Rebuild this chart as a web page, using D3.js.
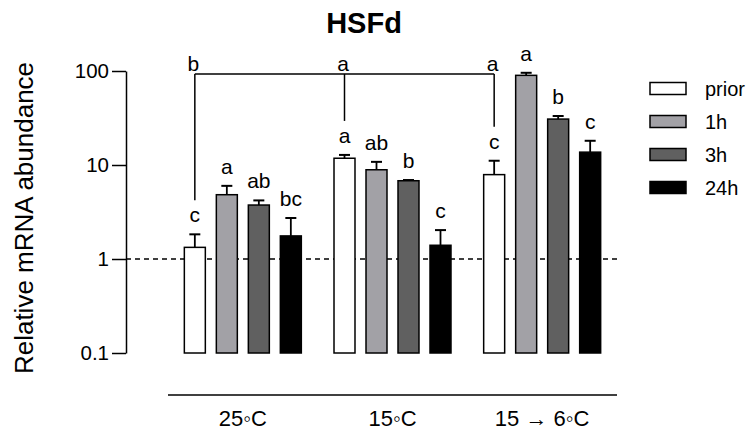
<!DOCTYPE html>
<html>
<head>
<meta charset="utf-8">
<script src="https://cdn.jsdelivr.net/npm/d3@7"></script>
<style>
  body { margin: 0; background: #fff; }
  svg { font-family: Arial, "Liberation Sans", sans-serif; }
</style>
</head>
<body>
<svg width="756" height="434"></svg>
<script>
// categories and series
const groups = ['25\u25E6C', '15\u25E6C', '15 \u2192 6\u25E6C'];
const series = ['prior', '1h', '3h', '24h'];
const colors = ['#ffffff', '#a2a1a6', '#606060', '#000000'];

// means per series (one value per group)
const prior = [1.33, 11.8, 7.9];
const h1 = [4.83, 8.9, 89.9];
const h3 = [3.75, 6.8, 30.8];
const h24 = [1.76, 1.40, 13.7];

// upper error (SEM) per series
const priorErr = [0.50, 1.0, 3.2];
const h1Err = [1.17, 1.9, 5.8];
const h3Err = [0.45, 0.12, 2.4];
const h24Err = [0.97, 0.63, 4.4];

// significance letters
const priorLetters = ['c', 'a', 'c'];
const h1Letters = ['a', 'ab', 'a'];
const h3Letters = ['ab', 'b', 'b'];
const h24Letters = ['bc', 'c', 'c'];
const bracketLetters = ['b', 'a', 'a'];

const yTicks = [0.1, 1, 10, 100];

const means = [prior, h1, h3, h24];
const errs = [priorErr, h1Err, h3Err, h24Err];
const letters = [priorLetters, h1Letters, h3Letters, h24Letters];

const data = [];
groups.forEach((g, gi) => {
  series.forEach((s, si) => {
    data.push({ group: g, series: s, value: means[si][gi], err: errs[si][gi], letter: letters[si][gi], color: colors[si] });
  });
});

const svg = d3.select('svg');

const y = d3.scaleLog().domain([0.1, 100]).range([353, 71]);
const x0 = d3.scaleBand().domain(groups).range([168, 617]);
const x1 = d3.scaleBand().domain(series).range([-64, 64]).paddingInner(0.344).paddingOuter(0.172);
const center = g => x0(g) + x0.bandwidth() / 2;
const barX = d => center(d.group) + x1(d.series);

// title
svg.append('text')
  .attr('x', 364).attr('y', 33)
  .attr('text-anchor', 'middle')
  .attr('font-size', 29).attr('font-weight', 'bold')
  .text('HSFd');

// y axis
const yAxis = svg.append('g')
  .attr('transform', 'translate(126,0)')
  .call(d3.axisLeft(y).tickValues(yTicks).tickFormat(d3.format('')).tickSize(14).tickSizeOuter(0).tickPadding(3));
yAxis.selectAll('path, line').attr('stroke', '#000').attr('stroke-width', 1.5);
yAxis.selectAll('text').attr('font-size', 20.5).attr('font-family', 'Arial, "Liberation Sans", sans-serif').attr('fill', '#000');

svg.append('text')
  .attr('transform', 'translate(33,218) rotate(-90)')
  .attr('text-anchor', 'middle')
  .attr('font-size', 26)
  .text('Relative mRNA abundance');

// dashed reference line at 1
svg.append('line')
  .attr('x1', 126).attr('x2', 620)
  .attr('y1', y(1)).attr('y2', y(1))
  .attr('stroke', '#000').attr('stroke-width', 1.3)
  .attr('stroke-dasharray', '5,4');

// error bars
const eb = svg.append('g').selectAll('g').data(data).join('g');
eb.append('line')
  .attr('x1', d => barX(d) + x1.bandwidth() / 2).attr('x2', d => barX(d) + x1.bandwidth() / 2)
  .attr('y1', d => y(d.value)).attr('y2', d => y(d.value + d.err))
  .attr('stroke', '#000').attr('stroke-width', 1.8);
eb.append('line')
  .attr('x1', d => barX(d) + x1.bandwidth() / 2 - 5.5).attr('x2', d => barX(d) + x1.bandwidth() / 2 + 5.5)
  .attr('y1', d => y(d.value + d.err)).attr('y2', d => y(d.value + d.err))
  .attr('stroke', '#000').attr('stroke-width', 2);

// bars
svg.append('g').selectAll('rect').data(data).join('rect')
  .attr('x', d => barX(d))
  .attr('y', d => y(d.value))
  .attr('width', x1.bandwidth())
  .attr('height', d => y(0.1) - y(d.value))
  .attr('fill', d => d.color)
  .attr('stroke', '#000').attr('stroke-width', 1.5);

// letters above bars
svg.append('g').selectAll('text').data(data).join('text')
  .attr('x', d => barX(d) + x1.bandwidth() / 2)
  .attr('y', d => y(d.value + d.err) - 12)
  .attr('text-anchor', 'middle')
  .attr('font-size', 21)
  .text(d => d.letter);

// bracket linking the prior bars
const bracketY = 74;
const priorX = groups.map(g => center(g) + x1('prior') + x1.bandwidth() / 2);
const priorTop = groups.map((g, i) => y(prior[i] + priorErr[i]) - 34);
svg.append('line')
  .attr('x1', priorX[0]).attr('x2', priorX[2])
  .attr('y1', bracketY).attr('y2', bracketY)
  .attr('stroke', '#000').attr('stroke-width', 1.5);
svg.append('g').selectAll('line').data(groups).join('line')
  .attr('x1', (d, i) => priorX[i]).attr('x2', (d, i) => priorX[i])
  .attr('y1', bracketY).attr('y2', (d, i) => priorTop[i])
  .attr('stroke', '#000').attr('stroke-width', 1.5);
svg.append('g').selectAll('text').data(bracketLetters).join('text')
  .attr('x', (d, i) => priorX[i] - 1.5)
  .attr('y', bracketY - 3)
  .attr('text-anchor', 'middle')
  .attr('font-size', 21)
  .text(d => d);

// x axis line and group labels
svg.append('line')
  .attr('x1', 168).attr('x2', 617)
  .attr('y1', 395).attr('y2', 395)
  .attr('stroke', '#000').attr('stroke-width', 1.5);
svg.append('g').selectAll('text').data(groups).join('text')
  .attr('x', d => center(d))
  .attr('y', 426)
  .attr('text-anchor', 'middle')
  .attr('font-size', 22)
  .text(d => d);

// legend
const legend = svg.append('g').selectAll('g').data(series).join('g')
  .attr('transform', (d, i) => `translate(650,${88.5 + i * 33})`);
legend.append('rect')
  .attr('x', 0).attr('y', -6).attr('width', 36).attr('height', 12)
  .attr('fill', (d, i) => colors[i])
  .attr('stroke', '#000').attr('stroke-width', 1.5);
legend.append('text')
  .attr('x', 55).attr('y', 7)
  .attr('font-size', 20)
  .text(d => d);
</script>
</body>
</html>
